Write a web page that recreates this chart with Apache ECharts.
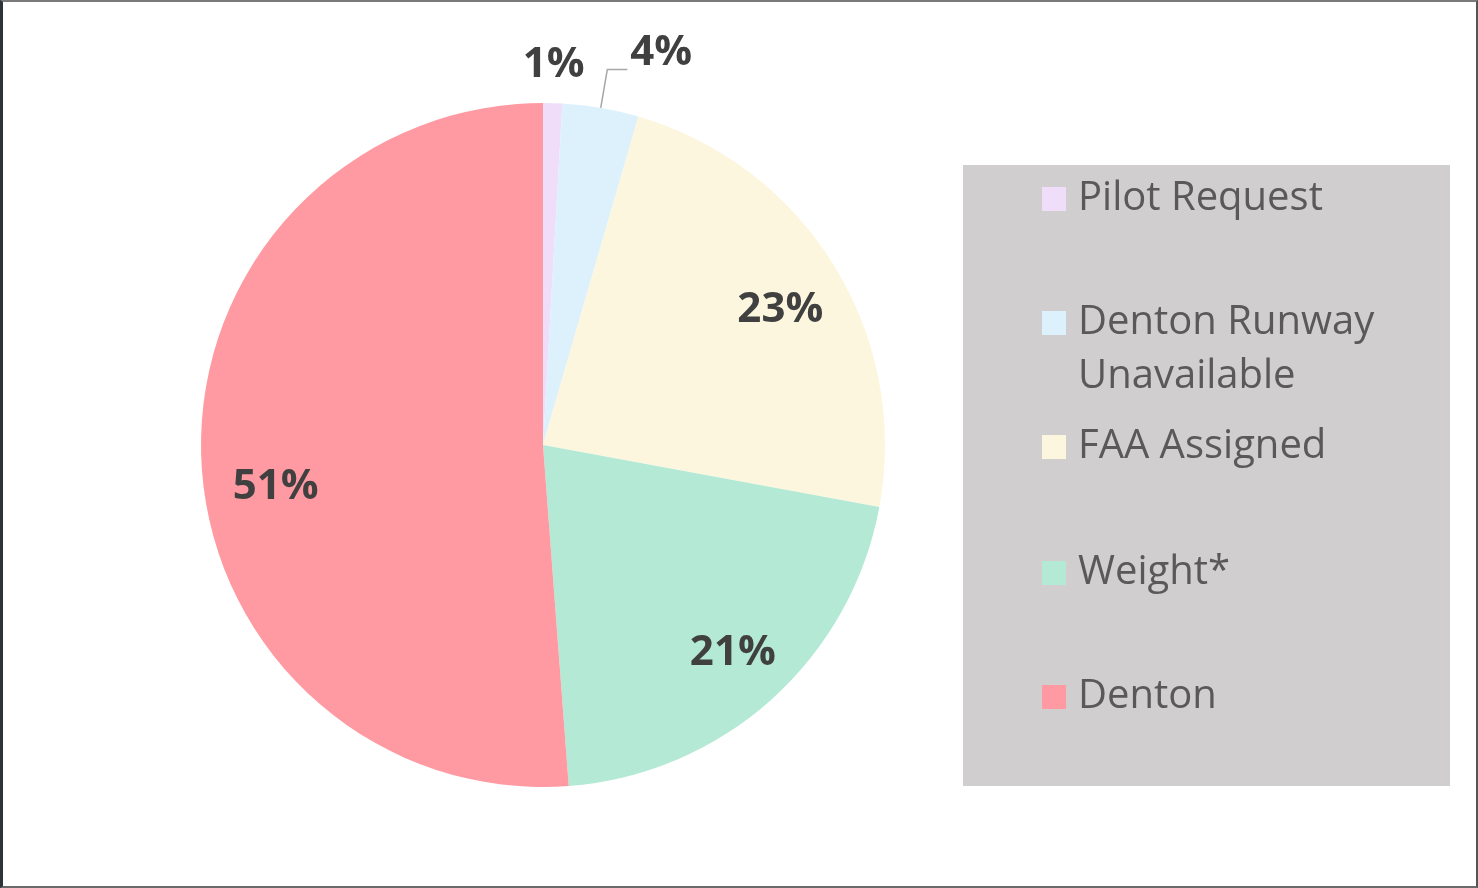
<!DOCTYPE html>
<html>
<head>
<meta charset="utf-8">
<script src="https://cdn.jsdelivr.net/npm/echarts@6/dist/echarts.min.js"></script>
<style>
html,body{margin:0;padding:0;background:#fff;}
#chart{position:absolute;left:0;top:0;width:1478px;height:888px;}
#frame{position:absolute;left:0;top:0;width:1478px;height:888px;box-sizing:border-box;
  border-left:3px solid #2e3338;border-right:2px solid #555;border-top:2px solid #7a7a7a;border-bottom:2px solid #6a6a6a;pointer-events:none;}
</style>
</head>
<body>
<div id="chart"></div>
<div id="frame"></div>
<script>
const categories = ['Pilot Request', 'Denton Runway Unavailable', 'FAA Assigned', 'Weight*', 'Denton'];
const legendLabels = ['Pilot Request', ' \nDenton Runway\nUnavailable', 'FAA Assigned', 'Weight*', 'Denton'];
const values = [0.9, 3.6, 23.4, 20.9, 51.2];
const colors = ['#EFDDFA', '#DDF1FC', '#FDF6DF', '#B3E9D5', '#FF9AA2'];

const labelFont = { fontFamily: 'Open Sans', fontWeight: 'bold', fontSize: 42, color: '#404040' };
const fmt = p => Math.round(p.percent) + '%';

// visible pie: small slices get outside labels
const pieData = categories.map((name, i) => {
  const item = { name, value: values[i], itemStyle: { color: colors[i] } };
  if (i === 0) {
    item.label = { show: true, position: 'outside', distanceToLabelLine: 0 };
    item.labelLine = { show: false, length: 38, length2: 0 };
  } else if (i === 1) {
    item.label = { show: true, position: 'outside', distanceToLabelLine: 3, lineHeight: 32,
      formatter: p => Math.round(p.percent) + '%\n ' };
    item.labelLine = { show: true, length: 39, length2: 20, lineStyle: { color: '#a6a6a6', width: 1.5 } };
  } else {
    item.label = { show: false };
    item.labelLine = { show: false };
  }
  return item;
});

// transparent ring overlay: places the large labels at 0.8 of the radius
const ringData = categories.map((name, i) => ({
  name, value: values[i],
  label: { show: i >= 2 }
}));
// small nudges of the inside labels, as in the reference
const labelNudge = { 2: [2, 10], 3: [5, 2], 4: [9, 32] };

const legendTops = [172, 242, 420, 546, 670];
const legends = categories.map((name, i) => ({
  orient: 'vertical',
  left: 1042,
  top: legendTops[i],
  padding: 0,
  itemWidth: 24,
  itemHeight: 24,
  icon: 'rect',
  selectedMode: false,
  data: [name],
  formatter: () => legendLabels[i],
  textStyle: {
    fontFamily: 'Open Sans', fontSize: 40, color: '#595959', lineHeight: 54,
    padding: [0, 0, 0, 7]
  }
}));

const chart = echarts.init(document.getElementById('chart'), null, { renderer: 'canvas' });
chart.setOption({
  animation: false,
  backgroundColor: 'transparent',
  graphic: [{
    type: 'rect', z: -1,
    shape: { x: 963, y: 165, width: 487, height: 621 },
    style: { fill: '#D0CECE' }
  }],
  legend: legends,
  series: [{
    type: 'pie',
    center: [543, 445],
    radius: 342,
    startAngle: 90,
    clockwise: true,
    avoidLabelOverlap: false,
    itemStyle: { borderWidth: 0 },
    label: Object.assign({ formatter: fmt }, labelFont),
    labelLayout: p => (p.dataIndex === 0 ? { align: 'center' } : {}),
    emphasis: { disabled: true },
    data: pieData
  }, {
    type: 'pie',
    center: [543, 445],
    radius: [205, 342],
    startAngle: 90,
    clockwise: true,
    silent: true,
    avoidLabelOverlap: false,
    itemStyle: { color: 'rgba(0,0,0,0)', borderWidth: 0 },
    label: Object.assign({ position: 'inside', formatter: fmt }, labelFont),
    labelLine: { show: false },
    labelLayout: p => {
      const n = labelNudge[p.dataIndex];
      return n ? { dx: n[0], dy: n[1] } : {};
    },
    emphasis: { disabled: true },
    data: ringData
  }]
});
</script>
</body>
</html>
